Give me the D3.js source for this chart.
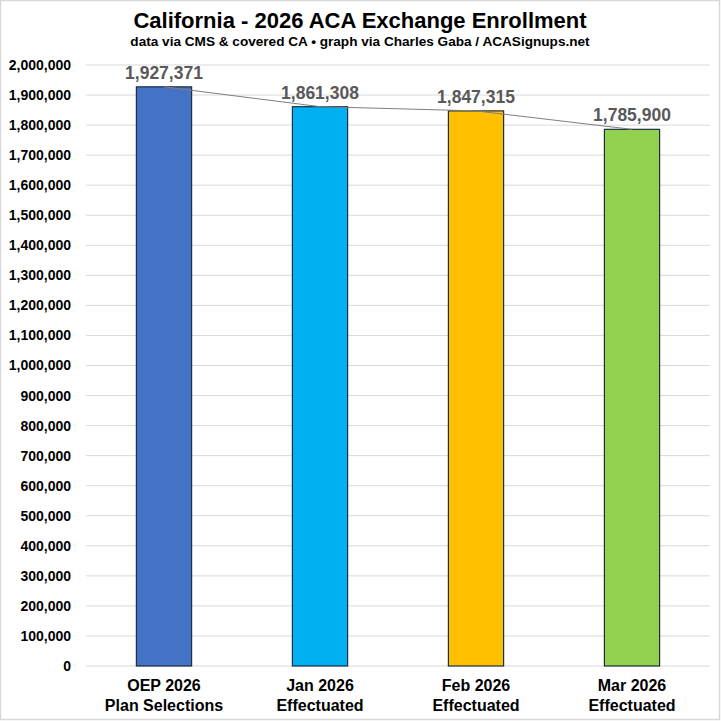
<!DOCTYPE html>
<html>
<head>
<meta charset="utf-8">
<script src="https://cdn.jsdelivr.net/npm/d3@7"></script>
<style>
  body { margin: 0; background: #fff; }
  svg { display: block; font-family: "Liberation Sans", Arial, sans-serif; }
</style>
</head>
<body>
<svg id="chart" width="721" height="721"></svg>
<script>
const categories = ["OEP 2026|Plan Selections", "Jan 2026|Effectuated", "Feb 2026|Effectuated", "Mar 2026|Effectuated"];
const values = [1927371, 1861308, 1847315, 1785900];
const barColors = ["#4472C4", "#00B0F0", "#FFC000", "#92D050"];
const yTicks = d3.range(0, 2000001, 100000);

const svg = d3.select("#chart");
const margin = { top: 65, right: 11, bottom: 55, left: 86 };
const W = 721, H = 721;

// outer border
svg.append("rect")
  .attr("x", 0.5).attr("y", 0.5)
  .attr("width", W - 2).attr("height", H - 2)
  .attr("fill", "#fff").attr("stroke", "#d9d9d9").attr("stroke-width", 1.5);

const x = d3.scaleBand()
  .domain(categories)
  .range([margin.left, W - margin.right])
  .paddingInner(0.646)
  .paddingOuter(0.323);

const y = d3.scaleLinear()
  .domain([0, 2000000])
  .range([H - margin.bottom, margin.top]);

// gridlines
svg.append("g")
  .selectAll("line")
  .data(yTicks)
  .join("line")
  .attr("x1", margin.left).attr("x2", W - margin.right)
  .attr("y1", d => y(d)).attr("y2", d => y(d))
  .attr("stroke", "#d9d9d9").attr("stroke-width", 1);

// y axis labels
const yAxis = d3.axisLeft(y).tickValues(yTicks).tickFormat(d3.format(",")).tickSize(0).tickPadding(15);
svg.append("g")
  .attr("transform", `translate(${margin.left},0)`)
  .call(yAxis)
  .call(g => g.select(".domain").remove())
  .selectAll("text")
  .attr("font-family", "Liberation Sans, Arial, sans-serif")
  .attr("font-size", 14).attr("font-weight", "bold").attr("fill", "#000");

// bars
svg.append("g")
  .selectAll("rect")
  .data(values)
  .join("rect")
  .attr("x", (d, i) => x(categories[i]))
  .attr("y", d => y(d))
  .attr("width", x.bandwidth())
  .attr("height", d => y(0) - y(d))
  .attr("fill", (d, i) => barColors[i])
  .attr("stroke", "#1c2e40").attr("stroke-width", 1.2);

// trend line through bar tops
const line = d3.line()
  .x((d, i) => x(categories[i]) + x.bandwidth() / 2)
  .y(d => y(d));
svg.append("path")
  .datum(values)
  .attr("d", line)
  .attr("fill", "none").attr("stroke", "#7f7f7f").attr("stroke-width", 1);

// value labels
svg.append("g")
  .selectAll("text")
  .data(values)
  .join("text")
  .attr("x", (d, i) => x(categories[i]) + x.bandwidth() / 2)
  .attr("y", d => y(d) - 8)
  .attr("text-anchor", "middle")
  .attr("font-size", 17.5).attr("font-weight", "bold").attr("fill", "#595959")
  .text(d => d3.format(",")(d));

// x labels
const xl = svg.append("g")
  .selectAll("text")
  .data(categories)
  .join("text")
  .attr("x", d => x(d) + x.bandwidth() / 2)
  .attr("y", 691)
  .attr("text-anchor", "middle")
  .attr("font-size", 16).attr("font-weight", "bold").attr("fill", "#000");
xl.selectAll("tspan")
  .data(d => d.split("|"))
  .join("tspan")
  .attr("x", function () { return d3.select(this.parentNode).attr("x"); })
  .attr("dy", (d, i) => i === 0 ? 0 : 20)
  .text(d => d);

// titles
svg.append("text")
  .attr("x", 360).attr("y", 28)
  .attr("text-anchor", "middle")
  .attr("font-size", 22).attr("font-weight", "bold").attr("fill", "#000")
  .text("California - 2026 ACA Exchange Enrollment");
svg.append("text")
  .attr("x", 360).attr("y", 46)
  .attr("text-anchor", "middle")
  .attr("font-size", 13.6).attr("font-weight", "bold").attr("fill", "#000")
  .text("data via CMS & covered CA \u2022 graph via Charles Gaba / ACASignups.net");
</script>
</body>
</html>
